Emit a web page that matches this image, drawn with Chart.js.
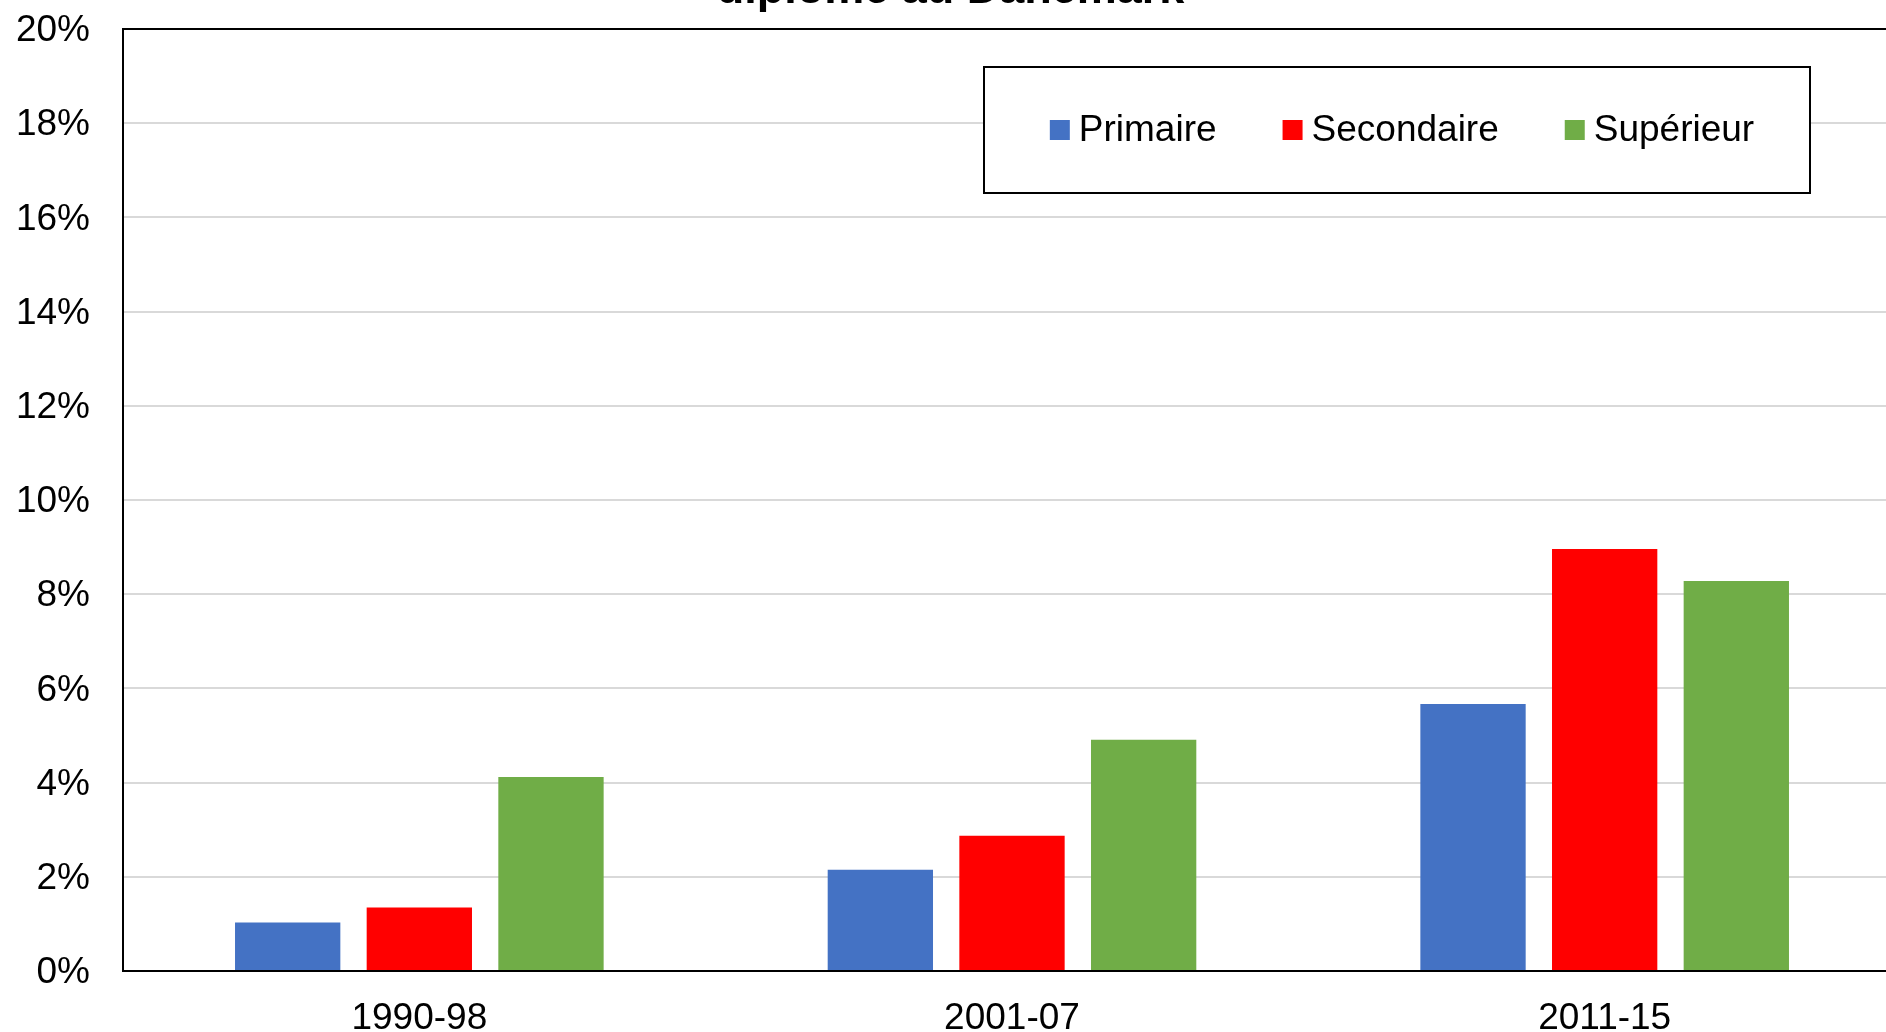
<!DOCTYPE html>
<html>
<head>
<meta charset="utf-8">
<script src="https://cdn.jsdelivr.net/npm/chart.js@4.4.1/dist/chart.umd.min.js"></script>
<style>
    html, body { margin: 0; padding: 0; overflow: hidden; background: #fff; }
    #wrap { position: absolute; left: 0; top: -40px; width: 1904px; height: 1081px; }
</style>
</head>
<body>
<div id="wrap"><canvas id="chart"></canvas></div>
<script>
const periods = ['1990-98', '2001-07', '2011-15'];
const seriesNames = ['Primaire', 'Secondaire', 'Supérieur'];
const primaire = [1.03, 2.15, 5.67];
const secondaire = [1.35, 2.87, 8.96];
const superieur = [4.12, 4.91, 8.28];
const yTicks = [0, 2, 4, 6, 8, 10, 12, 14, 16, 18, 20];
const titleText = 'diplôme au Danemark';

const colors = ['#4472C4', '#FF0000', '#70AD47'];
const fontFamily = '"Liberation Sans", Arial, sans-serif';

// legend drawn as a framed box inside the plot, like the original
const boxedLegend = {
    id: 'boxedLegend',
    afterDraw(chart) {
        const ctx = chart.ctx;
        const area = chart.chartArea;
        const boxW = 826;
        const boxH = 126;
        const boxX = area.right - 91 - boxW;
        const boxY = area.top + 38;

        ctx.save();
        ctx.fillStyle = '#fff';
        ctx.fillRect(boxX, boxY, boxW, boxH);
        ctx.strokeStyle = '#000';
        ctx.lineWidth = 2;
        ctx.strokeRect(boxX, boxY, boxW, boxH);

        ctx.font = '37px ' + fontFamily;
        ctx.textBaseline = 'middle';
        const sq = 20;
        const gapText = 9;
        const gapItem = 66;
        const items = chart.data.datasets.map((ds) => ({
            label: ds.label,
            color: ds.backgroundColor,
            w: sq + gapText + ctx.measureText(ds.label).width,
        }));
        const total = items.reduce((s, it) => s + it.w, 0) + gapItem * (items.length - 1);
        let x = boxX + (boxW - total) / 2 + 5;
        const cy = boxY + boxH / 2;
        items.forEach((it) => {
            ctx.fillStyle = it.color;
            ctx.fillRect(x, cy - sq / 2, sq, sq);
            ctx.fillStyle = '#000';
            ctx.fillText(it.label, x + sq + gapText, cy + 1);
            x += it.w + gapItem;
        });
        ctx.restore();
    },
};

const chartBars = new Chart(document.getElementById('chart'), {
    type: 'bar',
    data: {
        labels: periods,
        datasets: [
            { label: seriesNames[0], data: primaire, backgroundColor: colors[0] },
            { label: seriesNames[1], data: secondaire, backgroundColor: colors[1] },
            { label: seriesNames[2], data: superieur, backgroundColor: colors[2] },
        ],
    },
    options: {
        responsive: true,
        maintainAspectRatio: false,
        animation: false,
        layout: { padding: { left: 0, right: 3, top: 0, bottom: 0 } },
        datasets: {
            bar: { categoryPercentage: 0.6664, barPercentage: 0.8, borderWidth: 0 },
        },
        plugins: {
            legend: { display: false },
            tooltip: { enabled: false },
            title: {
                display: true,
                text: titleText,
                color: '#000',
                font: { family: fontFamily, size: 45, weight: 'bold' },
                padding: { top: 4, bottom: 11 },
            },
        },
        scales: {
            x: {
                grid: { display: false, drawTicks: false },
                border: { display: true, color: '#000', width: 2 },
                ticks: { color: '#000', padding: 26, font: { family: fontFamily, size: 37 } },
                afterFit: (scale) => { scale.height = 70; },
            },
            y: {
                min: 0,
                max: 20,
                afterBuildTicks: (scale) => { scale.ticks = yTicks.map((v) => ({ value: v })); },
                grid: {
                    drawTicks: false,
                    lineWidth: 2,
                    color: (c) => (c.tick && c.tick.value === 20 ? '#000' : '#d9d9d9'),
                },
                border: { display: true, color: '#000', width: 2 },
                ticks: {
                    color: '#000',
                    padding: 33,
                    labelOffset: 2,
                    font: { family: fontFamily, size: 37 },
                    callback: (v) => v + '%',
                },
                afterFit: (scale) => { scale.width = 123; },
            },
        },
    },
    plugins: [boxedLegend],
});
</script>
</body>
</html>
